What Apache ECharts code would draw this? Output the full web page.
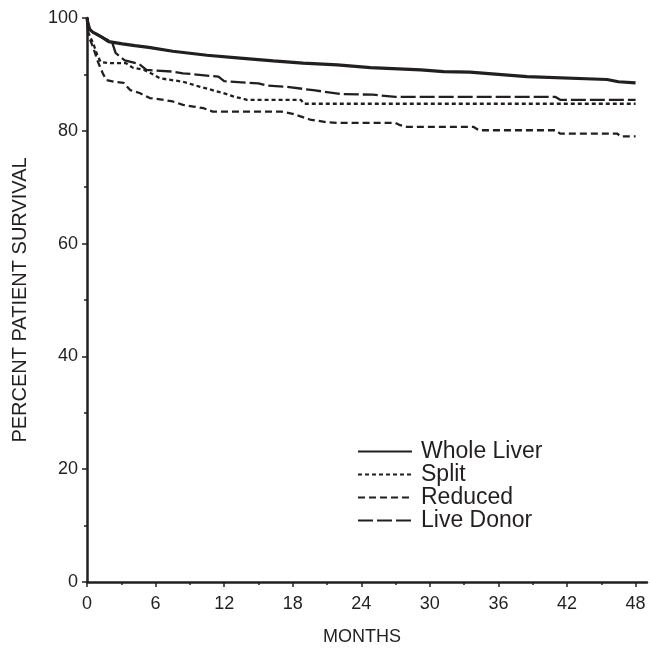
<!DOCTYPE html>
<html>
<head>
<meta charset="utf-8">
<script src="https://cdn.jsdelivr.net/npm/echarts@6/dist/echarts.min.js"></script>
<style>
html,body{margin:0;padding:0;background:#fff;}
#chart{width:650px;height:653px;}
</style>
</head>
<body>
<div id="chart"></div>
<script>
// Series names
var seriesNames = ['Whole Liver', 'Split', 'Reduced', 'Live Donor'];
// X tick labels (months) and Y tick labels (percent)
var monthTicks = [0, 6, 12, 18, 24, 30, 36, 42, 48];
var monthMinorTicks = [3, 9, 15, 21, 27, 33, 39, 45];
var percentTicks = [0, 20, 40, 60, 80, 100];

// [month, percent survival]
var wholeLiver = [[0,100],[0.12,98.2],[0.5,97.5],[1.3,96.6],[1.9,95.8],[3.1,95.4],[4.2,95.1],[5.4,94.8],[7.5,94.1],[10.5,93.4],[13.4,92.9],[16.3,92.4],[18.9,92.0],[21.9,91.7],[24.8,91.2],[29.2,90.8],[31.2,90.5],[33.5,90.4],[38.5,89.6],[45.5,89.1],[46.5,88.7],[48,88.5]];
var split = [[0,100],[0.1,97.5],[0.3,96.6],[0.6,95.2],[0.9,93.4],[1.2,92.2],[1.9,92.0],[3.4,92.0],[4.0,91.2],[5.0,90.8],[5.5,90.3],[6.4,89.3],[8.4,88.7],[9.9,87.8],[11.9,86.7],[12.8,86.1],[14,85.5],[18.7,85.5],[19,84.8],[48,84.8]];
var reduced = [[0,100],[0.1,97],[0.5,95],[1.0,92],[1.4,90.1],[1.7,89.0],[2.4,88.7],[3.2,88.5],[3.8,87.2],[4.6,86.7],[5.5,85.8],[6.7,85.5],[7.5,85.2],[8.4,84.6],[9.3,84.3],[10.2,84.0],[11,83.4],[17,83.4],[18,83.0],[19.5,82.0],[21,81.5],[22,81.4],[27,81.4],[27.4,81.0],[28,80.7],[33.8,80.7],[34.3,80.1],[41,80.1],[41.4,79.5],[46.4,79.5],[46.7,79.0],[48,79.0]];
var liveDonor = [[0,100],[0.3,97.8],[1.3,96.6],[2.2,95.7],[2.5,93.8],[3.3,92.5],[4.6,91.8],[5.2,90.8],[7.5,90.5],[8.4,90.2],[11.5,89.6],[12,88.8],[15,88.4],[15.8,88.0],[17.5,87.8],[19.8,87.2],[22.3,86.5],[25,86.4],[27,86.0],[41,86.0],[41.4,85.5],[48,85.5]];

var ink = '#231f20';
var font = 'Liberation Sans, Arial, Helvetica, sans-serif';

function mkSeries(name, data, type, width) {
  return {
    name: name, type: 'line', data: data, symbol: 'none', silent: true,
    xAxisIndex: 0, yAxisIndex: 0,
    lineStyle: { color: ink, width: width, type: type, cap: 'butt' },
    itemStyle: { color: ink },
    animation: false
  };
}

var chart = echarts.init(document.getElementById('chart'), null, { renderer: 'canvas' });
chart.setOption({
  backgroundColor: '#ffffff',
  animation: false,
  grid: { left: 87, right: 3, top: 18, bottom: 71, containLabel: false },
  legend: {
    orient: 'vertical', left: 357, top: 440, padding: 0,
    itemWidth: 54, itemHeight: 14, itemGap: 0,
    data: seriesNames,
    itemStyle: { opacity: 0 },
    textStyle: { fontFamily: font, fontSize: 23, color: ink, lineHeight: 23, padding: [0,0,0,4] },
    selectedMode: false
  },
  xAxis: [{
    type: 'value', min: 0, max: 49,
    name: 'MONTHS', nameLocation: 'middle', nameGap: 46,
    nameTextStyle: { fontFamily: font, fontSize: 18, color: ink, padding: [0, 10, 0, 0] },
    axisLine: { show: true, lineStyle: { color: ink, width: 2.5 } },
    axisTick: { show: true, length: 5, customValues: monthTicks, lineStyle: { color: ink, width: 1.5 } },
    axisLabel: { customValues: monthTicks, fontFamily: font, fontSize: 18, color: ink, margin: 13 },
    splitLine: { show: false }
  }, {
    type: 'value', min: 0, max: 49, position: 'bottom',
    axisLine: { show: false },
    axisTick: { show: true, length: 3, customValues: monthMinorTicks, lineStyle: { color: ink, width: 1.5 } },
    axisLabel: { show: false },
    splitLine: { show: false }
  }],
  yAxis: [{
    type: 'value', min: 0, max: 100, interval: 20,
    name: 'PERCENT PATIENT SURVIVAL', nameLocation: 'middle', nameGap: 57,
    nameTextStyle: { fontFamily: font, fontSize: 20, color: ink },
    axisLine: { show: true, lineStyle: { color: ink, width: 2.5 } },
    axisTick: { show: true, length: 5, lineStyle: { color: ink, width: 1.5 } },
    minorTick: { show: true, splitNumber: 2, length: 3, lineStyle: { color: ink, width: 1.5 } },
    axisLabel: { fontFamily: font, fontSize: 18, color: ink, margin: 9 },
    splitLine: { show: false }
  }],
  series: [
    mkSeries(seriesNames[0], wholeLiver, 'solid', 3.2),
    mkSeries(seriesNames[1], split, [4, 3], 2.3),
    mkSeries(seriesNames[2], reduced, [7, 4], 2.3),
    mkSeries(seriesNames[3], liveDonor, [15, 4], 2.3)
  ]
});
</script>
</body>
</html>
